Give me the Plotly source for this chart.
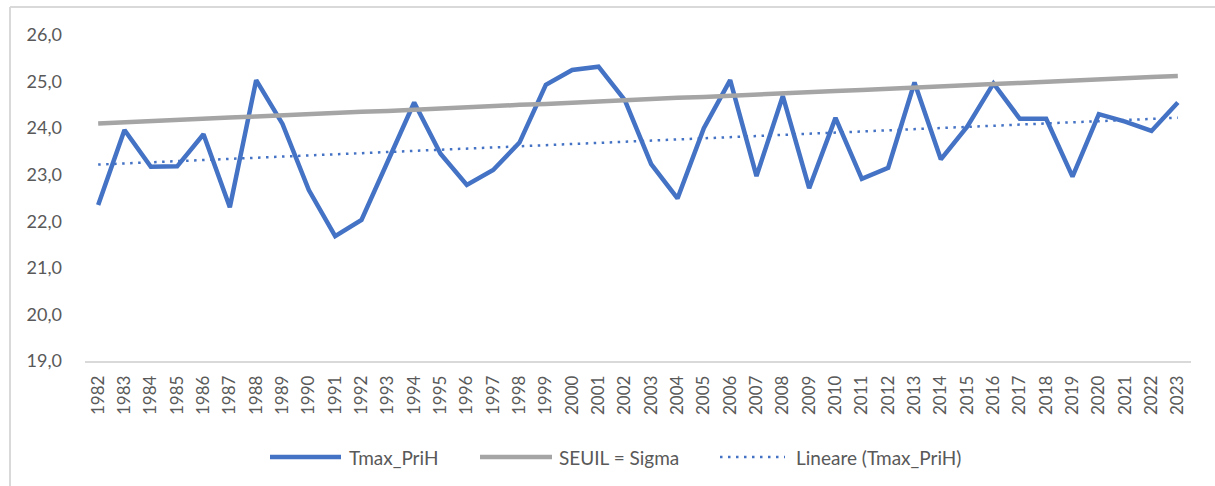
import numpy as np
import plotly.graph_objects as go

years = [str(y) for y in range(1982, 2024)]

tmax_prih = [22.35, 23.96, 23.17, 23.18, 23.87, 22.30, 25.03, 24.09, 22.67, 21.68,
             22.03, 23.27, 24.55, 23.45, 22.78, 23.10, 23.69, 24.93, 25.25, 25.32,
             24.60, 23.23, 22.49, 24.00, 25.03, 22.97, 24.69, 22.71, 24.22, 22.91,
             23.15, 24.98, 23.33, 24.03, 24.96, 24.20, 24.20, 22.96, 24.30, 24.14,
             23.94, 24.55]

seuil_sigma = [24.10, 24.13, 24.15, 24.18, 24.20, 24.23, 24.25, 24.28, 24.30, 24.32,
               24.35, 24.37, 24.40, 24.42, 24.45, 24.47, 24.50, 24.52, 24.55, 24.57,
               24.60, 24.62, 24.65, 24.67, 24.70, 24.72, 24.75, 24.77, 24.80, 24.82,
               24.85, 24.87, 24.90, 24.92, 24.95, 24.97, 25.00, 25.02, 25.05, 25.07,
               25.10, 25.12]

y_ticks = [19, 20, 21, 22, 23, 24, 25, 26]

series_names = ["Tmax_PriH", "SEUIL = Sigma", "Lineare (Tmax_PriH)"]

# Linear trendline (as Excel "Lineare") fitted on the data
idx = np.arange(len(tmax_prih))
slope, intercept = np.polyfit(idx, tmax_prih, 1)
trend = slope * idx + intercept

BLUE = "#4472C4"
GRAY = "#A5A5A5"
TXT = "#595959"
FONT = "Lato, 'Open Sans', sans-serif"
DOT = "2.5px,5.5px"

fig = go.Figure()
fig.add_trace(go.Scatter(x=years, y=tmax_prih, mode="lines", name=series_names[0],
                         line=dict(color=BLUE, width=4.5)))
fig.add_trace(go.Scatter(x=years, y=seuil_sigma, mode="lines", name=series_names[1],
                         line=dict(color=GRAY, width=4.5)))
fig.add_trace(go.Scatter(x=years, y=trend, mode="lines", name=series_names[2],
                         line=dict(color=BLUE, width=2.5, dash=DOT)))

L, R, T, B = 85, 24, 35, 125
W, H = 1215, 486
pw, ph = W - L - R, H - T - B

def px(x):
    return (x - L) / pw

def py(y):
    return (H - B - y) / ph

# Custom legend (Excel-like spacing)
leg_y = 457
leg_items = [
    (270, 341, 347, dict(color=BLUE, width=4.5)),
    (480, 552, 557, dict(color=GRAY, width=4.5)),
    (720, 785, 794, dict(color=BLUE, width=2.5, dash=DOT)),
]
shapes = [
    dict(type="line", xref="paper", yref="paper", x0=px(10), x1=px(10),
         y0=py(7), y1=py(H + 5), line=dict(color="#D9D9D9", width=2)),
    dict(type="line", xref="paper", yref="paper", x0=px(10), x1=px(W + 5),
         y0=py(7), y1=py(7), line=dict(color="#D9D9D9", width=2)),
]
annotations = []
for (x0, x1, xt, ln), name in zip(leg_items, series_names):
    shapes.append(dict(type="line", xref="paper", yref="paper", x0=px(x0), x1=px(x1),
                       y0=py(leg_y), y1=py(leg_y), line=ln))
    annotations.append(dict(xref="paper", yref="paper", x=px(xt), y=py(leg_y),
                            xanchor="left", yanchor="middle", text=name, showarrow=False,
                            font=dict(size=19, color=TXT, family=FONT)))

fig.update_layout(
    width=W, height=H,
    margin=dict(l=L, r=R, t=T, b=B),
    paper_bgcolor="white", plot_bgcolor="white",
    separators=",.",
    font=dict(family=FONT, color=TXT),
    showlegend=False,
    xaxis=dict(type="category", range=[-0.5, len(years) - 0.5], showgrid=False,
               showline=True, linecolor="#D9D9D9", linewidth=1.5, ticks="",
               tickangle=-90, ticklabelstandoff=6,
               tickfont=dict(size=17, color=TXT, family=FONT), zeroline=False),
    yaxis=dict(range=[19, 26], tickvals=y_ticks, tickformat=".1f", showgrid=False,
               showline=False, zeroline=False, ticks="", ticklabelstandoff=22,
               tickfont=dict(size=18, color=TXT, family=FONT)),
    shapes=shapes,
    annotations=annotations,
)

fig.write_html("out.html", config={"displayModeBar": False},
               post_script="document.body.style.margin='0';document.body.style.overflow='hidden';")
